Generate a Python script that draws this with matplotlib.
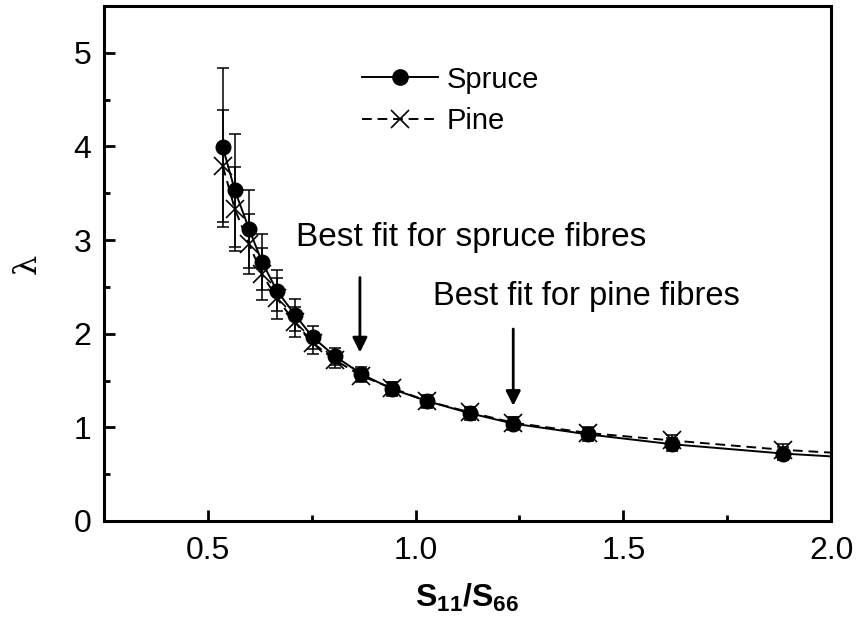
import matplotlib
matplotlib.use("Agg")
import matplotlib.pyplot as plt
from matplotlib import font_manager

# ---- data ----
ratio = [0.536, 0.565, 0.599, 0.630, 0.666, 0.710, 0.753, 0.806, 0.869,
         0.943, 1.028, 1.131, 1.235, 1.415, 1.617, 1.885]
spruce = [3.99, 3.53, 3.12, 2.77, 2.46, 2.20, 1.96, 1.76, 1.57,
          1.41, 1.28, 1.15, 1.04, 0.925, 0.82, 0.72]
spruce_err = [0.85, 0.60, 0.42, 0.30, 0.22, 0.17, 0.12, 0.09, 0.07,
              0.07, 0.07, 0.07, 0.07, 0.07, 0.07, 0.07]
pine = [3.79, 3.33, 2.96, 2.64, 2.38, 2.12, 1.90, 1.72, 1.55,
        1.42, 1.28, 1.16, 1.05, 0.94, 0.86, 0.76]
pine_err = [0.60, 0.45, 0.32, 0.28, 0.22, 0.16, 0.12, 0.09, 0.07,
            0.06, 0.06, 0.06, 0.06, 0.06, 0.06, 0.06]
# fitted curves continue to the edge of the plot
fit_end_x = 2.0
spruce_fit_end = 0.69
pine_fit_end = 0.73

best_spruce = 0.866
best_pine = 1.235

names = {f.name for f in font_manager.fontManager.ttflist}
narrow = "Liberation Sans Narrow" if "Liberation Sans Narrow" in names else "Liberation Sans"
plt.rcParams["font.family"] = [narrow, "DejaVu Sans"]
plt.rcParams["mathtext.fontset"] = "custom"
plt.rcParams["mathtext.bf"] = narrow + ":bold"
plt.rcParams["mathtext.rm"] = narrow

fig = plt.figure(figsize=(8.63, 6.22), dpi=100)
ax = fig.add_axes([0.1205, 0.1624, 0.8425, 0.828])

sx = ratio + [fit_end_x]
ax.plot(sx, spruce + [spruce_fit_end], color="black", lw=1.4, zorder=2)
ax.plot(sx, pine + [pine_fit_end], color="black", lw=1.4, ls=(0, (5, 3)), zorder=2)

ax.errorbar(ratio, spruce, yerr=spruce_err, fmt="none", ecolor="black",
            elinewidth=1.1, capsize=4.5, capthick=1.1, zorder=3)
ax.errorbar(ratio, pine, yerr=pine_err, fmt="none", ecolor="black",
            elinewidth=1.1, capsize=4.5, capthick=1.1, zorder=3)
ax.plot(ratio, spruce, "o", color="black", ms=10.5, zorder=4)
ax.plot(ratio, pine, "x", color="black", ms=13, mew=1.2, zorder=4)

# legend handles
h1, = ax.plot([], [], "-o", color="black", lw=1.4, ms=11)
h2, = ax.plot([], [], "--x", color="black", lw=1.4, ms=13, mew=1.2, dashes=(5, 3))
ax.legend([h1, h2], ["Spruce", "Pine"], loc="center left",
          bbox_to_anchor=(0.355, 0.817), frameon=False,
          handlelength=2.6, handletextpad=0.3, labelspacing=0.45,
          borderpad=0, borderaxespad=0, prop={"family": "Liberation Sans", "size": 21})

ax.annotate("", xy=(best_spruce, 1.80), xytext=(best_spruce, 2.60),
            arrowprops=dict(arrowstyle="-|>", color="black", lw=2,
                            mutation_scale=22, shrinkA=0, shrinkB=0))
ax.annotate("", xy=(best_pine, 1.23), xytext=(best_pine, 2.05),
            arrowprops=dict(arrowstyle="-|>", color="black", lw=2,
                            mutation_scale=22, shrinkA=0, shrinkB=0))
ax.text(0.712, 3.03, "Best fit for spruce fibres", fontsize=24,
        family="Liberation Sans", va="center", ha="left")
ax.text(1.042, 2.40, "Best fit for pine fibres", fontsize=23.5,
        family="Liberation Sans", va="center", ha="left")

ax.set_xlim(0.25, 2.0)
ax.set_ylim(0, 5.5)
ax.set_xticks([0.5, 1.0, 1.5, 2.0])
ax.set_xticklabels(["0.5", "1.0", "1.5", "2.0"])
ax.set_xticks([0.75, 1.25, 1.75], minor=True)
ax.set_yticks([0, 1, 2, 3, 4, 5])
ax.set_yticks([0.5, 1.5, 2.5, 3.5, 4.5], minor=True)
ax.tick_params(which="both", direction="in", top=False, right=False,
               labelsize=23, width=2)
ax.tick_params(which="major", length=8)
ax.tick_params(which="minor", length=4)
ax.tick_params(axis="x", pad=11)
ax.tick_params(axis="y", pad=9)
for s in ax.spines.values():
    s.set_linewidth(2.2)

ax.set_xlabel(r"$\mathbf{S_{11}/S_{66}}$", fontsize=23, labelpad=11)
ax.set_ylabel("λ", fontsize=23, family="DejaVu Serif", labelpad=22, rotation=90)

fig.savefig("out.png", dpi=100)
